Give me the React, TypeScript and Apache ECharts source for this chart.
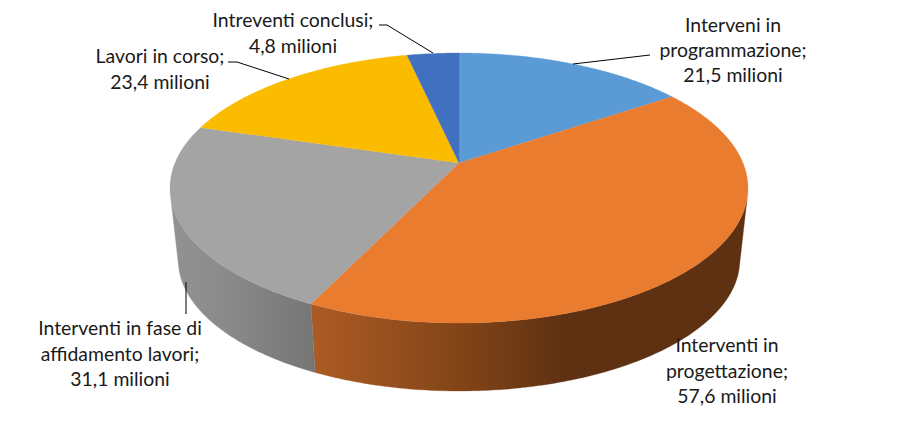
import React, { useEffect, useRef } from "react";
import * as echarts from "echarts";

const categories = [
  "Interveni in\nprogrammazione",
  "Interventi in\nprogettazione",
  "Interventi in fase di\naffidamento lavori",
  "Lavori in corso",
  "Intreventi conclusi",
];
const seriesValues = [21.5, 57.6, 31.1, 23.4, 4.8];
const unit = "milioni";

const topColors = ["#5a9ad5", "#ea7c30", "#a4a4a4", "#fbbc00", "#4270c0"];

// Geometry of the tilted disc: a perspective map of the unit circle
const K = 0.1852;
const TOP = { cx: 459, cy: 163, a: 284, b: 130.4 };
const BOTTOM = { cx: 459, cy: 235.4, a: 276, b: 126.8 };
const LEFT_TANGENT = (255 * Math.PI) / 180;
const RIGHT_TANGENT = (105 * Math.PI) / 180;
const FONT = '19.4px Lato, sans-serif';
const LINE_HEIGHT = 25.2;

const total = seriesValues.reduce((s, v) => s + v, 0);

function project(d: typeof TOP, t: number): number[] {
  const u = Math.sin(t);
  const v = Math.cos(t);
  const den = 1 + K * v;
  return [d.cx + (d.a * u) / den, d.cy - (d.b * v) / den];
}

function arc(d: typeof TOP, from: number, to: number): number[][] {
  const n = Math.max(2, Math.ceil(Math.abs(to - from) / 0.01));
  const pts: number[][] = [];
  for (let i = 0; i <= n; i++) pts.push(project(d, from + ((to - from) * i) / n));
  return pts;
}

const wallFills: Record<number, any> = {
  1: new echarts.graphic.LinearGradient(0, 0, 1, 0, [
    { offset: 0, color: "#ad5b25" },
    { offset: 0.32, color: "#854618" },
    { offset: 0.58, color: "#5f3113" },
    { offset: 1, color: "#5f3113" },
  ]),
  2: new echarts.graphic.LinearGradient(0, 0, 1, 0, [
    { offset: 0, color: "#929292" },
    { offset: 0.4, color: "#8a8a8a" },
    { offset: 1, color: "#757575" },
  ]),
};

const labelCenters = [
  [733, 49.5],
  [727, 370],
  [120, 353],
  [160, 68.5],
  [293, 32.5],
];

const leaders = [
  [[573, 64], [650, 55]],
  [],
  [[186, 282], [186, 314]],
  [[289, 79], [237, 62], [228, 62]],
  [[433, 53], [387, 25], [379, 25]],
];

function renderItem(params: any, api: any) {
  const i = params.dataIndex;
  const value = api.value(0);
  const before = seriesValues.slice(0, i).reduce((s, v) => s + v, 0);
  const start = (before / total) * Math.PI * 2;
  const end = ((before + value) / total) * Math.PI * 2;
  const children: any[] = [];

  // side wall: only the front part of the rim is visible
  let wallFrom = Math.max(start, RIGHT_TANGENT);
  let wallTo = Math.min(end, LEFT_TANGENT);
  if (wallFrom < wallTo) {
    children.push({
      type: "polygon",
      shape: { points: [...arc(TOP, wallFrom, wallTo), ...arc(BOTTOM, wallTo, wallFrom)] },
      style: { fill: wallFills[i], stroke: wallFills[i], lineWidth: 0.3 },
    });
  }
  // top face
  children.push({
    type: "polygon",
    shape: { points: [[TOP.cx, TOP.cy], ...arc(TOP, start, end)] },
    style: { fill: topColors[i], stroke: topColors[i], lineWidth: 0.3 },
    z2: 5,
  });
  // leader
  if (leaders[i].length) {
    children.push({
      type: "polyline",
      shape: { points: leaders[i] },
      style: { fill: "none", stroke: "#000000", lineWidth: 1 },
      z2: 8,
    });
  }
  // label
  const text = `${categories[i]};\n${String(value).replace(".", ",")} ${unit}`;
  children.push({
    type: "text",
    z2: 10,
    style: {
      text,
      x: labelCenters[i][0],
      y: labelCenters[i][1],
      align: "center",
      verticalAlign: "middle",
      font: FONT,
      lineHeight: LINE_HEIGHT,
      fill: "#1a1a1a",
    },
  });
  return { type: "group", children };
}

export default function App() {
  const ref = useRef<HTMLDivElement>(null);
  useEffect(() => {
    document.body.style.margin = "0";
    const chart = echarts.init(ref.current!, undefined, { renderer: "svg" });
    chart.setOption({
      animation: false,
      backgroundColor: "#ffffff",
      series: [
        {
          type: "custom",
          coordinateSystem: "none",
          renderItem,
          clip: false,
          data: seriesValues.map((value, i) => ({ name: categories[i], value: [value] })),
        },
      ],
    });
    return () => chart.dispose();
  }, []);
  return <div ref={ref} style={{ width: 920, height: 446 }} />;
}
